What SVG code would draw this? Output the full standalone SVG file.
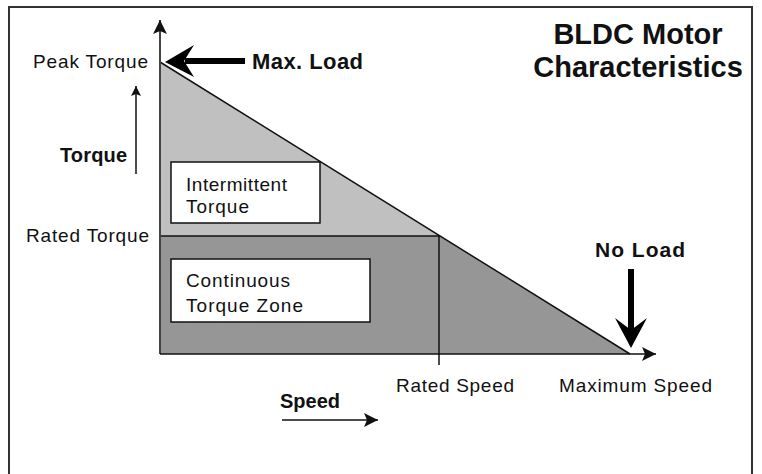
<svg xmlns="http://www.w3.org/2000/svg" width="762" height="474" viewBox="0 0 762 474">
  <style>
    .lbl { font-family: "Liberation Sans", Arial, sans-serif; font-size: 19px; fill: #111; }
    .bold { font-family: "Liberation Sans", Arial, sans-serif; font-weight: bold; fill: #111; }
    .box { fill: #fff; stroke: #111; stroke-width: 1.5; }
    .ln { stroke: #111; stroke-width: 1.5; fill: none; }
  </style>
  <defs>
    <marker id="tri" viewBox="0 0 10 10" refX="10" refY="5" markerWidth="10" markerHeight="10" markerUnits="userSpaceOnUse" orient="auto">
      <path d="M0,0 L10,5 L0,10 L2,5 Z" fill="#111"/>
    </marker>
    <marker id="triAxis" viewBox="0 0 14 14" refX="14" refY="7" markerWidth="14" markerHeight="14" markerUnits="userSpaceOnUse" orient="auto">
      <path d="M0,0 L14,7 L0,14 L3,7 Z" fill="#111"/>
    </marker>
  </defs>

  <rect width="762" height="474" fill="#fff"/>

  <!-- outer frame -->
  <path d="M9,480 L9,7 L752,7 L752,480" fill="none" stroke="#333" stroke-width="2"/>

  <!-- operating zones -->
  <g id="intermittent-zone">
    <polygon points="160,62 440,236 160,236" fill="#c0c0c0"/>
  </g>
  <g id="continuous-zone">
    <polygon points="160,236 440,236 630,354 160,354" fill="#969696"/>
  </g>

  <g id="connectors">
    <!-- characteristic line -->
    <line class="ln" x1="160" y1="62" x2="630" y2="354"/>
    <!-- rated torque level -->
    <line class="ln" x1="160" y1="236" x2="440" y2="236"/>
    <!-- rated speed marker -->
    <line class="ln" x1="439" y1="236" x2="439" y2="365"/>
    <!-- axes -->
    <line x1="160" y1="354" x2="160" y2="20" stroke="#444" stroke-width="2" marker-end="url(#triAxis)"/>
    <line class="ln" x1="160" y1="354" x2="656" y2="354" marker-end="url(#triAxis)"/>
    <!-- axis direction hints -->
    <line x1="136" y1="174" x2="136" y2="86" stroke="#111" stroke-width="1.5" marker-end="url(#tri)"/>
    <line x1="282" y1="420" x2="378" y2="420" stroke="#111" stroke-width="1.5" marker-end="url(#triAxis)"/>
    <!-- load arrows -->
    <path d="M245,61 L185,61" stroke="#000" stroke-width="6" fill="none"/>
    <path d="M165,62 L194,45 L184,61 L194,77 Z" fill="#000"/>
    <path d="M631,269 L631,332" stroke="#000" stroke-width="6" fill="none"/>
    <path d="M631,348 L615,318 L631,330 L647,318 Z" fill="#000"/>
  </g>

  <g id="intermittent-label">
    <rect class="box" x="171" y="162" width="149" height="61"/>
    <text class="lbl" x="186" y="191" textLength="101" lengthAdjust="spacing">Intermittent</text>
    <text class="lbl" x="186" y="213" textLength="63" lengthAdjust="spacing">Torque</text>
  </g>

  <g id="continuous-label">
    <rect class="box" x="171" y="259" width="199" height="63"/>
    <text class="lbl" x="186" y="287" textLength="104" lengthAdjust="spacing">Continuous</text>
    <text class="lbl" x="186" y="312" textLength="117" lengthAdjust="spacing">Torque Zone</text>
  </g>

  <g id="axis-labels">
    <text class="lbl" x="33" y="68" textLength="115" lengthAdjust="spacing">Peak Torque</text>
    <text class="lbl" x="26" y="242" textLength="123" lengthAdjust="spacing">Rated Torque</text>
    <text class="lbl" x="396" y="392" textLength="118" lengthAdjust="spacing">Rated Speed</text>
    <text class="lbl" x="559" y="392" textLength="153" lengthAdjust="spacing">Maximum Speed</text>
    <text class="bold" x="60" y="162" font-size="20" textLength="67" lengthAdjust="spacing">Torque</text>
    <text class="bold" x="280" y="408" font-size="20" textLength="60" lengthAdjust="spacing">Speed</text>
  </g>

  <g id="load-labels">
    <text class="bold" x="252" y="69" font-size="22" textLength="111" lengthAdjust="spacing">Max. Load</text>
    <text class="bold" x="595" y="257" font-size="21" textLength="90" lengthAdjust="spacing">No Load</text>
  </g>

  <g id="title">
    <text class="bold" x="638" y="44" font-size="29" text-anchor="middle">BLDC Motor</text>
    <text class="bold" x="638" y="77" font-size="29" text-anchor="middle">Characteristics</text>
  </g>
</svg>
